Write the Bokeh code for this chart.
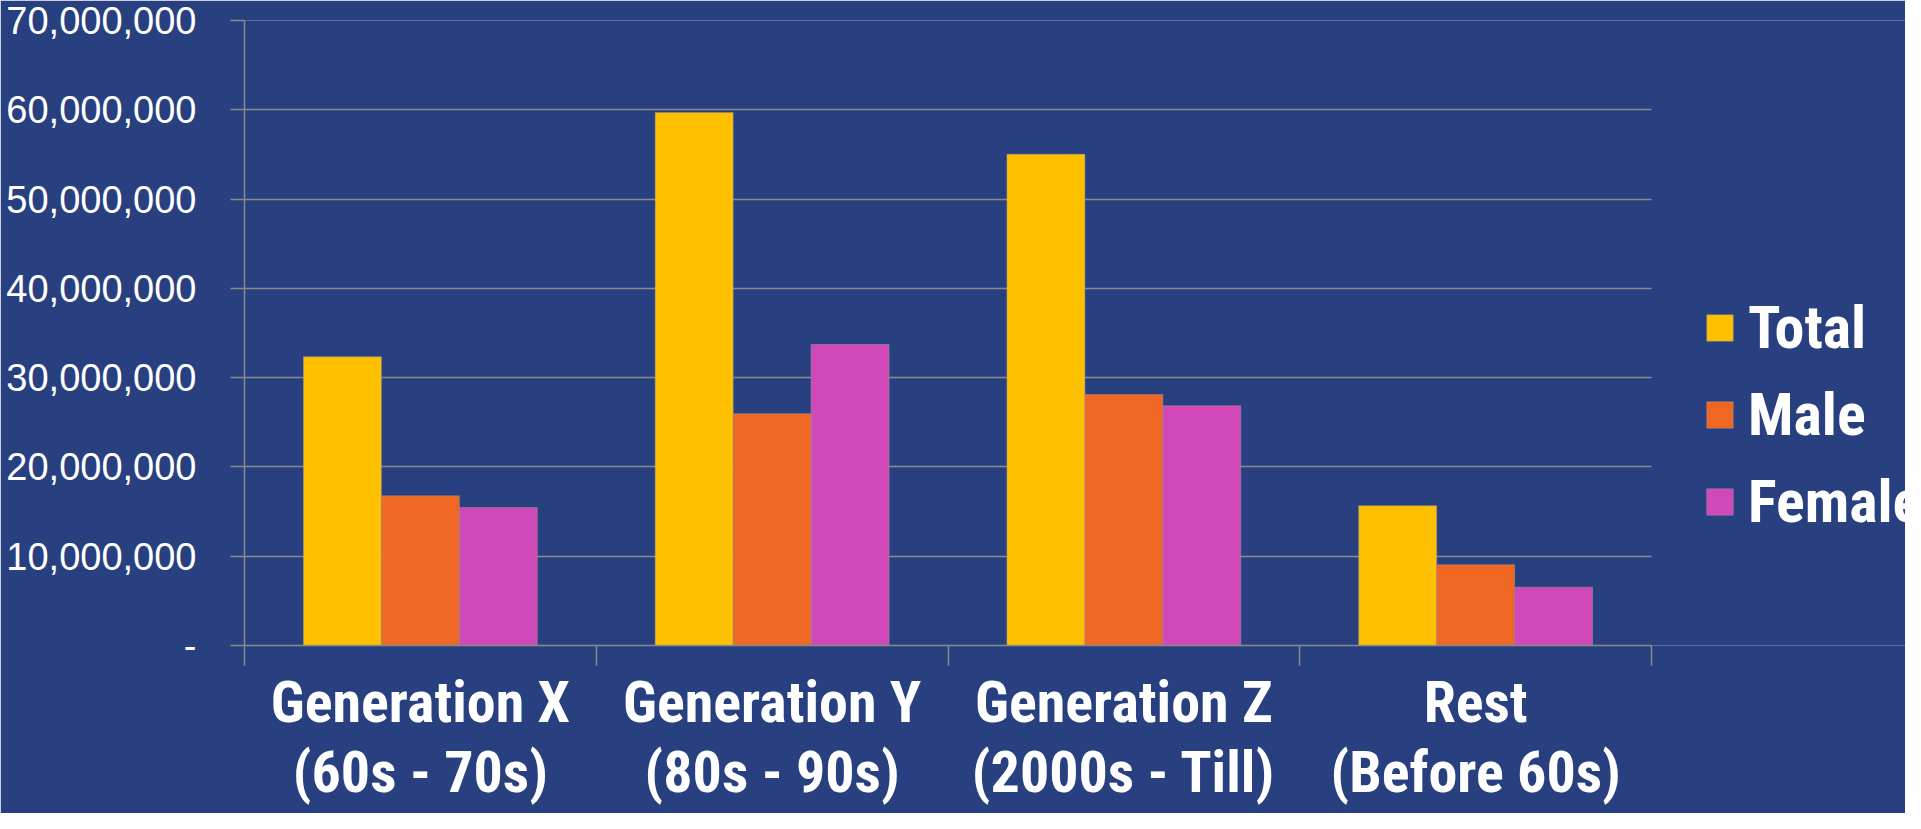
from bokeh.plotting import figure
from bokeh.models import ColumnDataSource, Range1d, FixedTicker, NumeralTickFormatter
from bokeh.transform import dodge
from bokeh.embed import file_html
from bokeh.resources import INLINE

categories = ["Generation X", "Generation Y", "Generation Z", "Rest"]
periods = ["(60s - 70s)", "(80s - 90s)", "(2000s - Till)", "(Before 60s)"]
total = [32_330_000, 59_690_000, 55_020_000, 15_640_000]
male = [16_760_000, 25_950_000, 28_110_000, 9_040_000]
female = [15_450_000, 33_710_000, 26_840_000, 6_530_000]
series = ["Total", "Male", "Female"]
colors = ["#FFC000", "#F06623", "#D148B8"]
y_ticks = [0, 10_000_000, 20_000_000, 30_000_000, 40_000_000, 50_000_000, 60_000_000, 70_000_000]

BG = "#284080"
GRID = "#8a8a8a"
NARROW = "Roboto Condensed"

W, H = 1905, 813
LEFT, TOP, BOTTOM = 244, 20, 168
PLOT_PX = 1407          # width of the category area in pixels
FRAME_PX = W - LEFT     # frame runs to the right edge (legend lives there)

n = len(categories)
pos = [i + 0.5 for i in range(n)]
bounds = list(range(n + 1))
src = ColumnDataSource(dict(pos=pos, Total=total, Male=male, Female=female))

p = figure(width=W, height=H, x_range=Range1d(0, n * FRAME_PX / PLOT_PX),
           y_range=Range1d(0, y_ticks[-1]),
           output_backend="svg", toolbar_location=None,
           background_fill_color=BG, border_fill_color=BG, outline_line_color=None,
           min_border_left=LEFT, min_border_right=0, min_border_top=TOP, min_border_bottom=BOTTOM)

bw = 0.2216
for k, (s, c) in enumerate(zip(series, colors)):
    p.vbar(x=dodge("pos", (k - 1) * bw), top=s, width=bw, source=src,
           fill_color=c, line_color="#9a9a9a", line_alpha=0.5, line_width=1, legend_label=s)

# y axis
p.yaxis.ticker = FixedTicker(ticks=y_ticks)
p.yaxis.formatter = NumeralTickFormatter(format="0,0")
p.yaxis.major_label_overrides = {0: "-"}
p.yaxis.major_tick_out = 14
p.yaxis.major_tick_in = 0
p.yaxis.minor_tick_out = 0
p.yaxis.minor_tick_in = 0
p.yaxis.axis_line_color = GRID
p.yaxis.major_tick_line_color = GRID
p.yaxis.major_tick_line_width = 1.5
p.yaxis.axis_line_width = 1.5
p.yaxis.major_label_text_font = "Liberation Sans"
p.yaxis.major_label_text_font_size = "38px"
p.yaxis.major_label_text_color = "white"
p.yaxis.major_label_standoff = 34

# x axis
p.xaxis.bounds = (0, n)
p.xaxis.ticker = FixedTicker(ticks=pos, minor_ticks=bounds)
p.xaxis.major_label_overrides = {pos[i]: f"{categories[i]}\n{periods[i]}" for i in range(n)}
p.xaxis.major_tick_out = 0
p.xaxis.major_tick_in = 0
p.xaxis.minor_tick_out = 20
p.xaxis.minor_tick_in = 0
p.xaxis.minor_tick_line_color = GRID
p.xaxis.minor_tick_line_width = 1.5
p.xaxis.axis_line_color = GRID
p.xaxis.axis_line_width = 1.5
p.xaxis.major_label_text_font = NARROW
p.xaxis.major_label_text_font_style = "bold"
p.xaxis.major_label_text_font_size = "58px"
p.xaxis.major_label_text_line_height = 1.04
p.xaxis.major_label_text_color = "white"
p.xaxis.major_label_standoff = 2

p.xgrid.visible = False
p.ygrid.ticker = FixedTicker(ticks=y_ticks)
p.ygrid.cross_bounds = (0, n)
p.ygrid.grid_line_color = GRID
p.ygrid.grid_line_width = 1.5

lg = p.legend[0]
lg.location = (1459, 108)
lg.padding = 0
lg.margin = 0
lg.spacing = 16
lg.glyph_width = 33
lg.glyph_height = 33
lg.label_standoff = 12
lg.label_text_font = NARROW
lg.label_text_font_style = "bold"
lg.label_text_font_size = "60px"
lg.label_text_color = "white"
lg.background_fill_alpha = 0
lg.border_line_alpha = 0

open("out.html", "w").write(file_html(p, INLINE))
